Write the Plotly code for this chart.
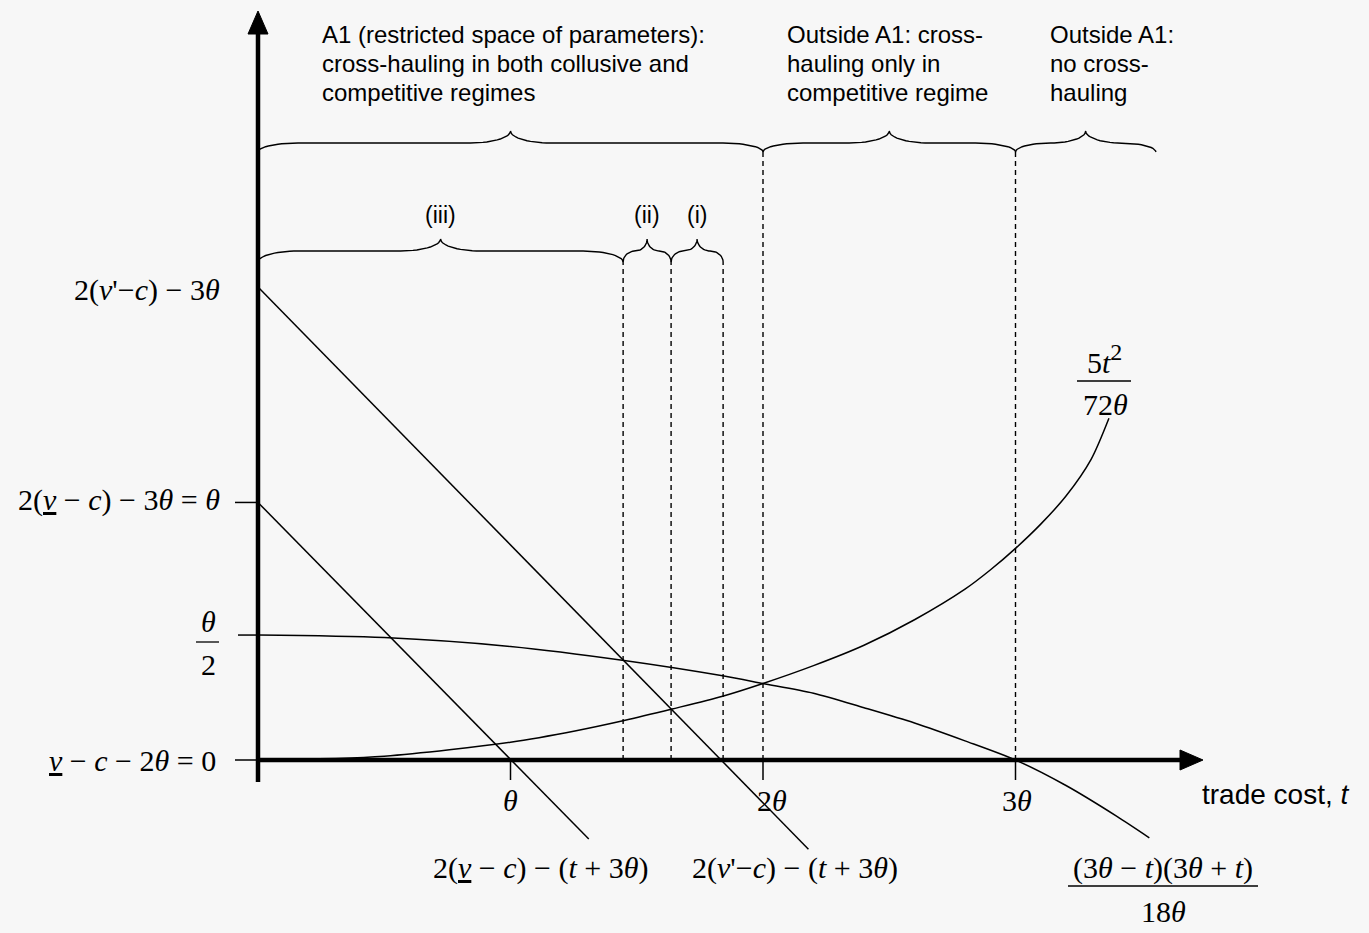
import numpy as np
import plotly.graph_objects as go

# ---------------- data (in units of theta) ----------------
# rising curve 5t^2/(72 theta)
t_rise = [0, 0.5, 1.0, 1.26, 1.45, 1.64, 1.84, 2.0, 2.2, 2.4, 2.6, 2.8, 2.9, 3.0, 3.1, 3.2, 3.3, 3.37]
v_rise = [0, 0.015, 0.07, 0.115, 0.155, 0.2, 0.25, 0.3, 0.37, 0.45, 0.55, 0.67, 0.745, 0.83, 0.925, 1.035, 1.18, 1.34]
# falling curve (3theta-t)(3theta+t)/(18 theta)
t_fall = [0, 0.5, 1.0, 1.45, 1.84, 2.0, 2.2, 2.4, 2.6, 2.8, 3.0, 3.2, 3.4, 3.53]
v_fall = [0.49, 0.48, 0.445, 0.39, 0.33, 0.30, 0.262, 0.205, 0.145, 0.075, 0.0, -0.1, -0.22, -0.305]
# straight lines 2(v-c)-(t+3theta) and 2(v'-c)-(t+3theta)
t_line_low = [0.0, 1.31]
v_line_low = [1.01, -0.31]
t_line_high = [0.0, 2.18]
v_line_high = [1.855, -0.35]

# thresholds (dashed verticals)
t_thresholds = [1.446, 1.636, 1.842, 2.0, 3.0]
threshold_level = ["case", "case", "case", "regime", "regime"]

# braces
regime_bounds = [0.0, 2.0, 3.0, 3.556]
regime_text = [
    ["A1 (restricted space of parameters):", "cross-hauling in both collusive and", "competitive regimes"],
    ["Outside A1: cross-", "hauling only in", "competitive regime"],
    ["Outside A1:", "no cross-", "hauling"],
]
case_bounds = [0.0, 1.446, 1.636, 1.842]
case_labels = ["(iii)", "(ii)", "(i)"]

# ticks
x_tick_vals = [1, 2, 3]
x_tick_labels = ["<i>θ</i>", "2<i>θ</i>", "3<i>θ</i>"]
y_tick_vals = [0.0, 0.49, 1.01, 1.855]

# ---------------- geometry ----------------
W, H = 1369, 933
X0, Y0 = 258, 760          # pixel position of origin
PXX, PXY = 252.5, 255.0    # pixels per theta
XR = [-X0 / PXX, (W - X0) / PXX]
YR = [-(H - Y0) / PXY, Y0 / PXY]


def dx(p):
    return p / PXX


def dy(p):
    return p / PXY


def vpx(ypx):  # pixel row -> data value
    return (Y0 - ypx) / PXY


def tpx(xpx):
    return (xpx - X0) / PXX


SERIF = "Liberation Serif, Times New Roman, serif"
SANS = "Liberation Sans, Arial, sans-serif"
BLACK = "#000000"
MATH = 30

fig = go.Figure()


def add_line(xs, ys, width=1.5, dash=None, shape="linear", smoothing=0.8):
    fig.add_trace(go.Scatter(x=xs, y=ys, mode="lines",
                             line=dict(color=BLACK, width=width, dash=dash, shape=shape, smoothing=smoothing),
                             hoverinfo="skip", showlegend=False))


def brace(a, b, level, tip_px, peak_px):
    wpx = (b - a) * PXX
    r = dx(min(40.0, wpx / 4.0))
    m = (a + b) / 2.0
    dt, dp = dy(tip_px), dy(peak_px)
    ph = np.linspace(0, np.pi / 2, 16)
    x1 = a + r - r * np.cos(ph); y1 = level - dt + dt * np.sin(ph)
    x2 = m - r + r * np.sin(ph); y2 = level + dp - dp * np.cos(ph)
    x3 = m + r - r * np.cos(ph); y3 = level + dp - dp * np.sin(ph)
    x4 = b - r + r * np.sin(ph); y4 = level - dt + dt * np.cos(ph)
    xs = np.concatenate([x1, x2, x3, x4])
    ys = np.concatenate([y1, y2, y3, y4])
    add_line(xs, ys, width=1.4)
    return m


regime_level = vpx(143)
case_level = vpx(251)
regime_tip, regime_peak = 9, 12
case_tip, case_peak = 11, 12

# dashed verticals
for t, lv in zip(t_thresholds, threshold_level):
    top = regime_level - dy(regime_tip) if lv == "regime" else case_level - dy(case_tip)
    add_line([t, t], [0, top], width=1.4, dash="5px,4px")

# curves and lines
add_line(t_fall, v_fall, width=1.5, shape="spline")
add_line(t_rise, v_rise, width=1.5, shape="spline")
add_line(t_line_low, v_line_low, width=1.5)
add_line(t_line_high, v_line_high, width=1.5)

# ticks
for v, L in zip(y_tick_vals[:3], [23, 20, 23]):
    add_line([-dx(L), 0], [v, v], width=1.5)
for t in [0] + x_tick_vals:
    add_line([t, t], [0, -dy(20)], width=1.5)

# axes (thick) with arrowheads
add_line([0, 0], [-dy(22), vpx(30)], width=4.5)
add_line([0, tpx(1182)], [0, 0], width=4.5)
fig.add_trace(go.Scatter(x=[-dx(10), dx(10), 0, -dx(10)], y=[vpx(34), vpx(34), vpx(11), vpx(34)],
                         mode="lines", fill="toself", fillcolor=BLACK, line=dict(color=BLACK, width=1),
                         hoverinfo="skip", showlegend=False))
fig.add_trace(go.Scatter(x=[tpx(1180), tpx(1180), tpx(1203), tpx(1180)], y=[dy(10), -dy(10), 0, dy(10)],
                         mode="lines", fill="toself", fillcolor=BLACK, line=dict(color=BLACK, width=1),
                         hoverinfo="skip", showlegend=False))

annotations = []


def txt(x, y, s, size=MATH, family=SERIF, xanchor="center", yanchor="middle"):
    annotations.append(dict(x=x, y=y, xref="x", yref="y", text=s, showarrow=False,
                            xanchor=xanchor, yanchor=yanchor,
                            font=dict(family=family, size=size, color=BLACK)))


# braces + labels
regime_left_px = [320, 785, 1048]
line_y_px = [34, 63, 92]
for i in range(3):
    brace(regime_bounds[i], regime_bounds[i + 1], regime_level, regime_tip, regime_peak)
    for j, s in enumerate(regime_text[i]):
        txt(tpx(regime_left_px[i]), vpx(line_y_px[j]), s, size=24, family=SANS, xanchor="left")
for i in range(3):
    m = brace(case_bounds[i], case_bounds[i + 1], case_level, case_tip, case_peak)
    txt(m, vpx(215), case_labels[i], size=23, family=SANS)

# x tick labels
x_label_px = [510, 772, 1017]
for t, s, xp in zip(x_tick_vals, x_tick_labels, x_label_px):
    txt(tpx(xp), vpx(800), s)
txt(tpx(1200), vpx(794), "trade cost, <i>t</i>", size=28, family=SANS, xanchor="left")

# y tick labels
txt(tpx(222), y_tick_vals[3] - dy(3), "2(<i>v</i>'−<i>c</i>) − 3<i>θ</i>", xanchor="right")
txt(tpx(222), y_tick_vals[2] + dy(2), "2(<u><i>v</i></u> − <i>c</i>) − 3<i>θ</i> = <i>θ</i>", xanchor="right")
txt(tpx(218), y_tick_vals[0], "<u><i>v</i></u> − <i>c</i> − 2<i>θ</i> = 0", xanchor="right")
# theta/2 fraction
txt(tpx(208), vpx(621), "<i>θ</i>")
txt(tpx(208), vpx(664), "2")
add_line([tpx(196), tpx(219)], [vpx(642), vpx(642)], width=1.3)

# line labels
txt(tpx(541), vpx(868), "2(<u><i>v</i></u> − <i>c</i>) − (<i>t</i> + 3<i>θ</i>)")
txt(tpx(795), vpx(868), "2(<i>v</i>'−<i>c</i>) − (<i>t</i> + 3<i>θ</i>)")
# 5t^2 / 72theta
txt(tpx(1104), vpx(359), "5<i>t</i><sup><span style='font-size:24px'>2</span></sup>")
add_line([tpx(1077), tpx(1131)], [vpx(381), vpx(381)], width=1.3)
txt(tpx(1105), vpx(404), "72<i>θ</i>")
# (3θ−t)(3θ+t) / 18θ
txt(tpx(1163), vpx(868), "(3<i>θ</i> − <i>t</i>)(3<i>θ</i> + <i>t</i>)")
add_line([tpx(1068), tpx(1258)], [vpx(886), vpx(886)], width=1.3)
txt(tpx(1163), vpx(911), "18<i>θ</i>")

fig.update_layout(
    width=W, height=H, margin=dict(l=0, r=0, t=0, b=0),
    paper_bgcolor="#f7f7f7", plot_bgcolor="#f7f7f7",
    xaxis=dict(range=XR, visible=False, fixedrange=True),
    yaxis=dict(range=YR, visible=False, fixedrange=True),
    showlegend=False, hovermode=False, annotations=annotations,
)

fig.write_html("out.html", config={"displayModeBar": False, "staticPlot": True},
               post_script="document.body.style.margin='0px';document.body.style.overflow='hidden';document.body.style.background='#f7f7f7';")
